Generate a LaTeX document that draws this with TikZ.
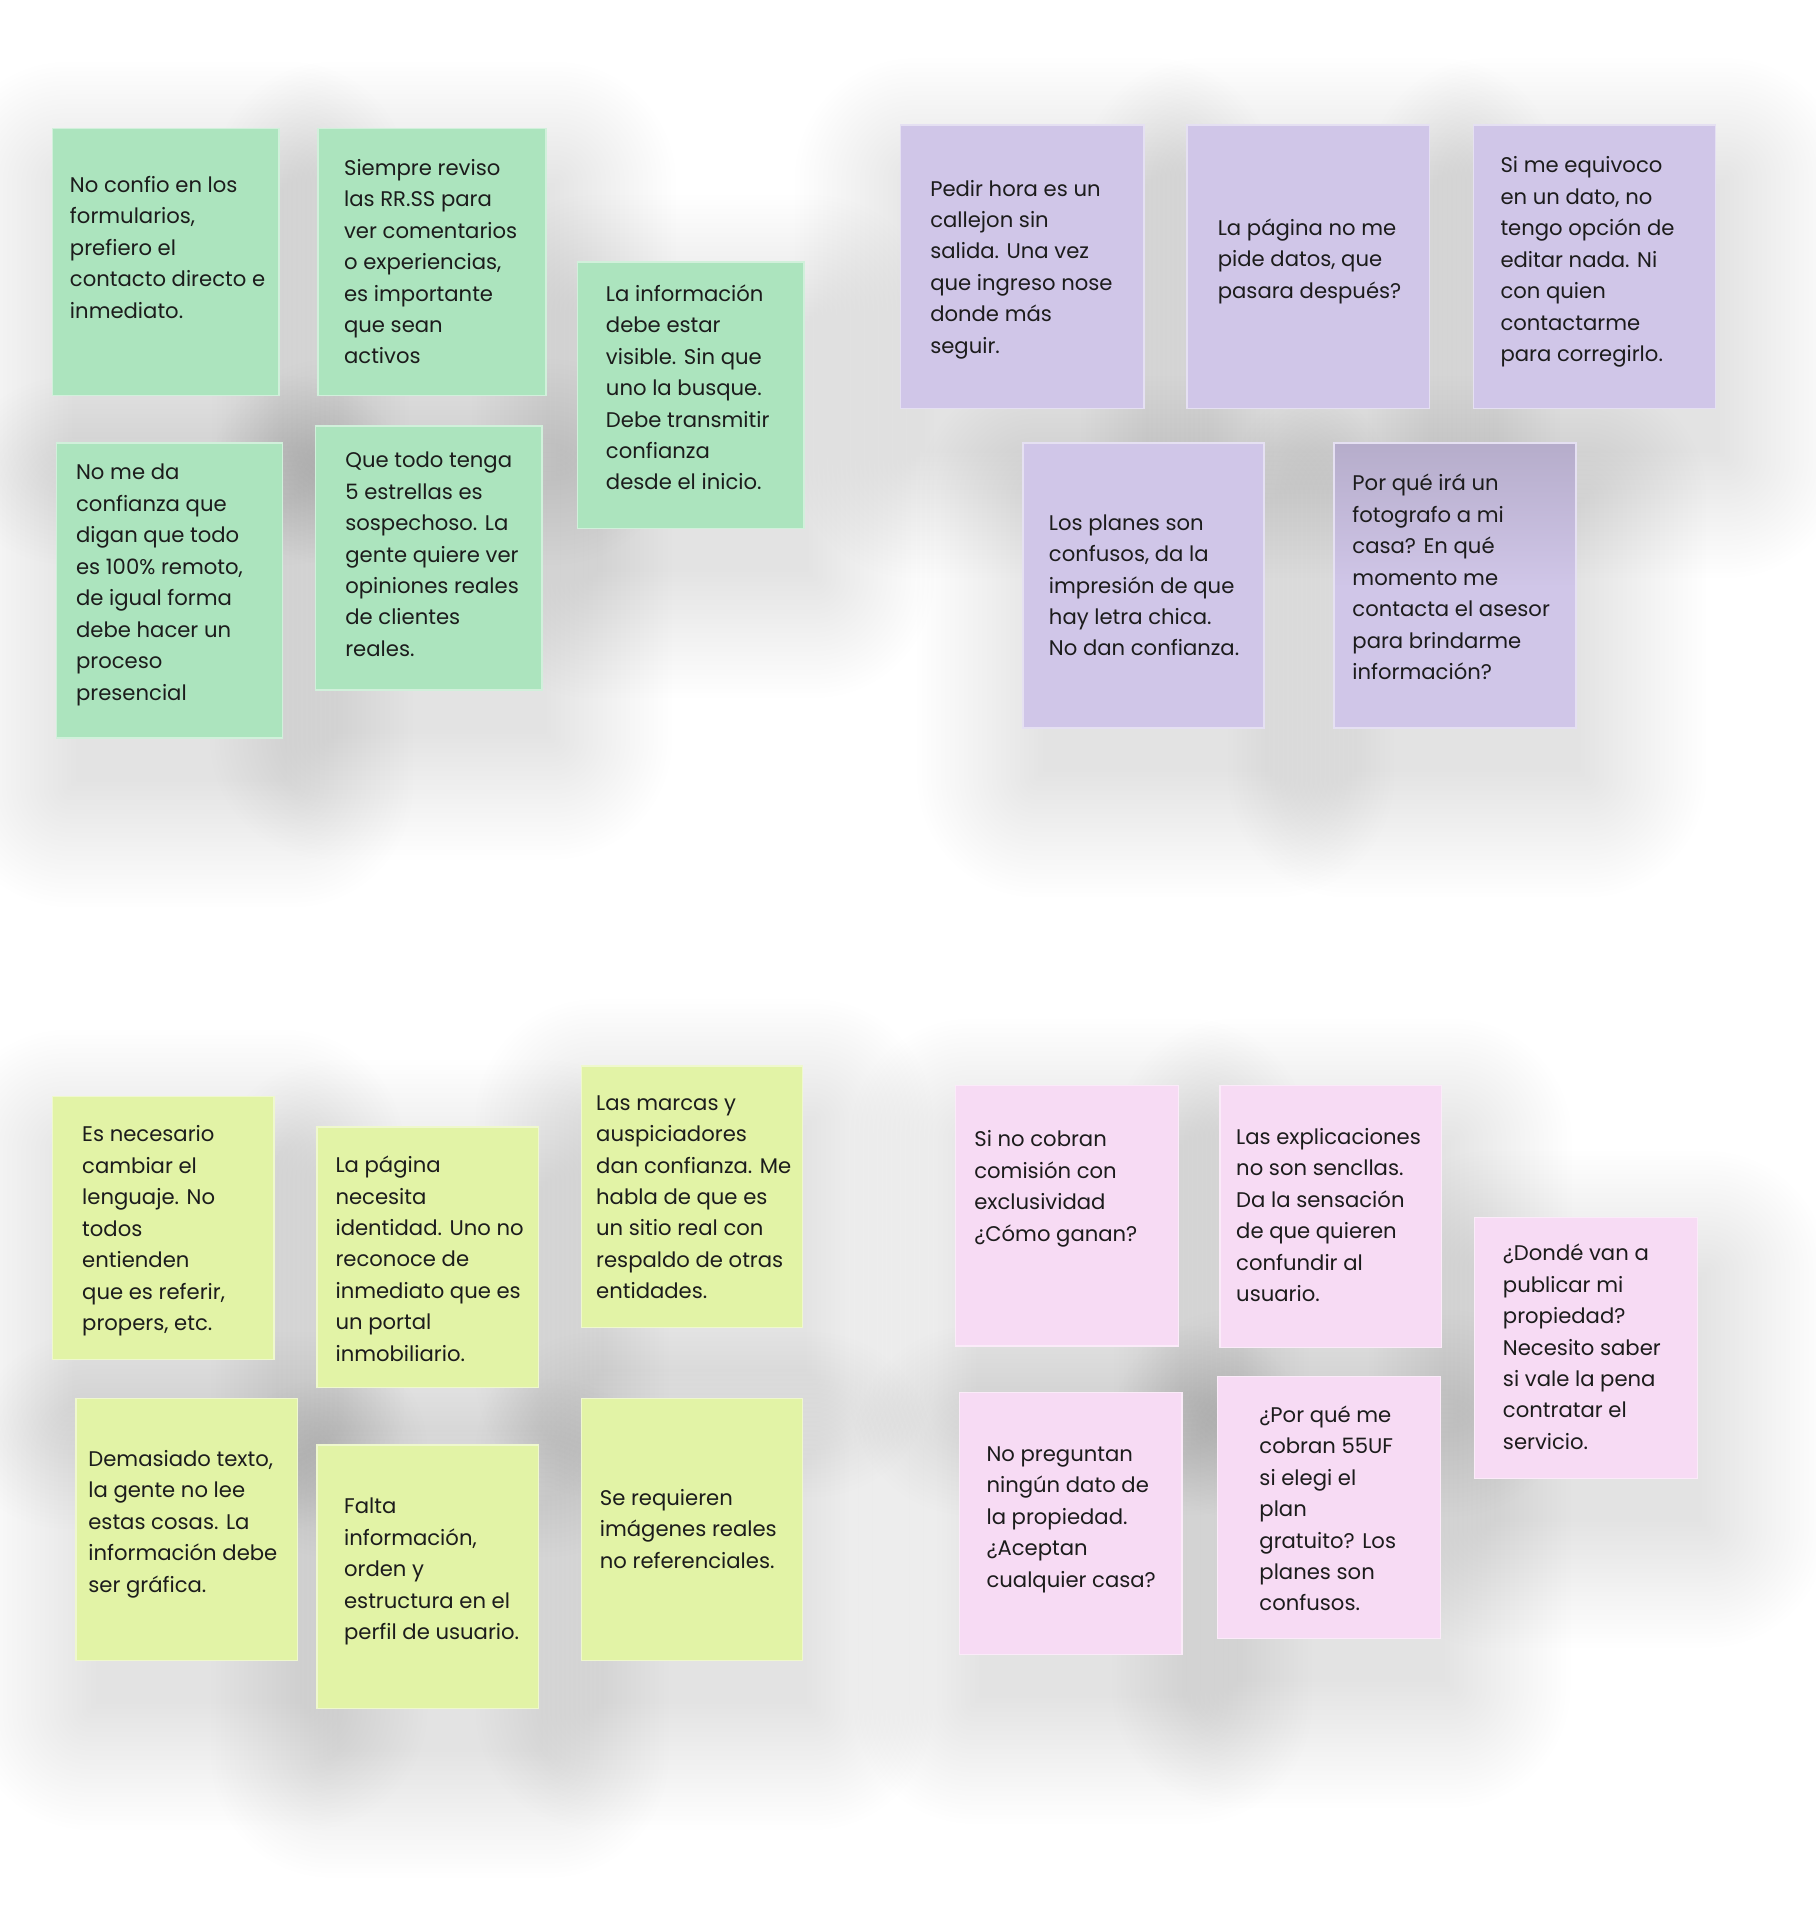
\documentclass[tikz,border=0pt]{standalone}
\usepackage{fontspec}
\setmainfont{Poppins}
\definecolor{gnote}{HTML}{ACE4BE}
\definecolor{pnote}{HTML}{D0C6E8}
\definecolor{pdark}{HTML}{B6ADCB}
\definecolor{ynote}{HTML}{E2F3A6}
\definecolor{knote}{HTML}{F7DBF4}
\definecolor{textc}{HTML}{1C1C1C}
\pgfdeclarelayer{shadowlayer}
\pgfsetlayers{shadowlayer,main}
\tikzset{
  notebox/.style={rectangle, inner sep=0pt, line width=1.2pt},
  notetext/.style={anchor=north west, inner sep=0pt, align=left, text=textc,
    font=\fontsize{17.3}{25.7}\selectfont},
  shadowring/.style={fill=black, fill opacity=0.0045}
}
\newcommand{\softshadow}[4]{%
  \begin{pgfonlayer}{shadowlayer}
  \foreach \k in {1,...,28}{%
    \pgfmathsetmacro{\ee}{\k*3.8-10}%
    \pgfmathsetmacro{\rr}{max(\k*3.8-8,1)}%
    \fill[shadowring, rounded corners=\rr pt]
      ({#1-\ee+10},{#2-\ee+42}) rectangle ({#3+\ee+10},{#4+\ee+42});
  }%
  \end{pgfonlayer}%
}
\newcommand{\stickynote}[9]{%
  \softshadow{#3}{#4}{#5}{#6}%
  \node[notebox, fill=#2, draw=#2!55!white,
    minimum width={#5pt-#3pt}, minimum height={#6pt-#4pt}]
    (#1) at ({(#3+#5)/2},{(#4+#6)/2}) {};
  \node[notetext] (#1-text) at (#7,{#8-14}) {\rule{0pt}{20pt}#9};
}
\begin{document}
\begin{tikzpicture}[x=1pt,y=-1pt]
\useasboundingbox (0,0) rectangle (1484,1569);
\begin{pgfonlayer}{shadowlayer}
  \fill[white] (0,0) rectangle (1484,1569);
\end{pgfonlayer}

% green group
\stickynote{g1}{gnote}{43}{105}{228}{323}{57}{151}{No confio en los\\formularios,\\prefiero el\\contacto directo e\\inmediato.}
\stickynote{g2}{gnote}{260}{105}{446}{323}{281}{137}{Siempre reviso\\las RR.SS para\\ver comentarios\\o experiencias,\\es importante\\que sean\\activos}
\stickynote{g3}{gnote}{472}{214}{657}{432}{495}{240}{La información\\debe estar\\visible. Sin que\\uno la busque.\\Debe transmitir\\confianza\\desde el inicio.}
\stickynote{g4}{gnote}{46}{362}{231}{603}{62}{386}{No me da\\confianza que\\digan que todo\\es 100\% remoto,\\de igual forma\\debe hacer un\\proceso\\presencial}
\stickynote{g5}{gnote}{258}{348}{443}{564}{282}{376}{Que todo tenga\\5 estrellas es\\sospechoso. La\\gente quiere ver\\opiniones reales\\de clientes\\reales.}

% purple group
\stickynote{p1}{pnote}{736}{102}{935}{334}{760}{154}{Pedir hora es un\\callejon sin\\salida. Una vez\\que ingreso nose\\donde más\\seguir.}
\stickynote{p2}{pnote}{970}{102}{1168}{334}{995}{186}{La página no me\\pide datos, que\\pasara después?}
\stickynote{p3}{pnote}{1204}{102}{1402}{334}{1226}{135}{Si me equivoco\\en un dato, no\\tengo opción de\\editar nada. Ni\\con quien\\contactarme\\para corregirlo.}
\stickynote{p4}{pnote}{836}{362}{1033}{595}{857}{427}{Los planes son\\confusos, da la\\impresión de que\\hay letra chica.\\No dan confianza.}
% p5 with darker top
\softshadow{1090}{362}{1288}{595}
\node[notebox, fill=pnote, draw=pnote!55!white, minimum width=198pt, minimum height=233pt] (p5) at (1189,478.5) {};
\shade[top color=pdark, bottom color=pnote] (1091,363) rectangle (1287,480);
\node[notetext] (p5-text) at (1105,{395-14}) {\rule{0pt}{20pt}Por qué irá un\\fotografo a mi\\casa? En qué\\momento me\\contacta el asesor\\para brindarme\\información?};

% yellow group
\stickynote{y1}{ynote}{43}{896}{224}{1111}{67}{927}{Es necesario\\cambiar el\\lenguaje. No\\todos\\entienden\\que es referir,\\propers, etc.}
\stickynote{y2}{ynote}{259}{921}{440}{1134}{274}{952}{La página\\necesita\\identidad. Uno no\\reconoce de\\inmediato que es\\un portal\\inmobiliario.}
\stickynote{y3}{ynote}{475}{871}{656}{1085}{487}{901}{Las marcas y\\auspiciadores\\dan confianza. Me\\habla de que es\\un sitio real con\\respaldo de otras\\entidades.}
\stickynote{y4}{ynote}{62}{1143}{243}{1357}{72}{1192}{Demasiado texto,\\la gente no lee\\estas cosas. La\\información debe\\ser gráfica.}
\stickynote{y5}{ynote}{259}{1181}{440}{1396}{281}{1231}{Falta\\información,\\orden y\\estructura en el\\perfil de usuario.}
\stickynote{y6}{ynote}{475}{1143}{656}{1357}{490}{1224}{Se requieren\\imágenes reales\\no referenciales.}

% pink group
\stickynote{k1}{knote}{781}{887}{963}{1100}{796}{931}{Si no cobran\\comisión con\\exclusividad\\¿Cómo ganan?}
\stickynote{k2}{knote}{997}{887}{1178}{1101}{1010}{929}{Las explicaciones\\no son sencllas.\\Da la sensación\\de que quieren\\confundir al\\usuario.}
\stickynote{k3}{knote}{1205}{995}{1387}{1208}{1228}{1024}{¿Dondé van a\\publicar mi\\propiedad?\\Necesito saber\\si vale la pena\\contratar el\\servicio.}
\stickynote{k4}{knote}{784}{1138}{966}{1352}{806}{1188}{No preguntan\\ningún dato de\\la propiedad.\\¿Aceptan\\cualquier casa?}
\stickynote{k5}{knote}{995}{1125}{1177}{1339}{1029}{1156}{¿Por qué me\\cobran 55UF\\si elegi el\\plan\\gratuito? Los\\planes son\\confusos.}
\end{tikzpicture}
\end{document}
